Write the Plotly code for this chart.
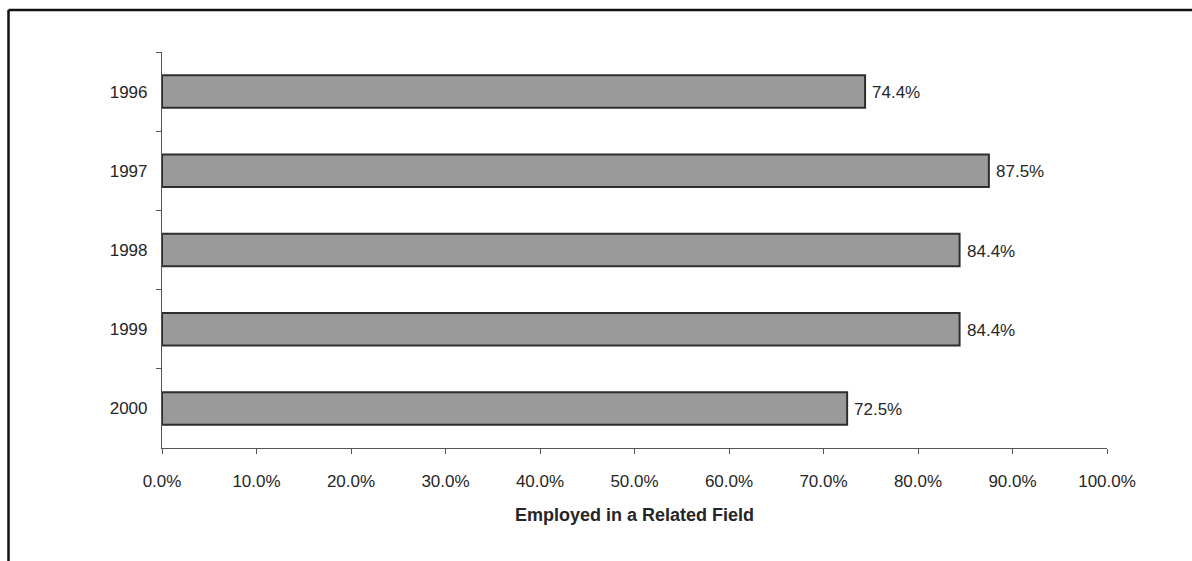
import plotly.graph_objects as go

# Share of graduates employed in a related field, by year
years = ["1996", "1997", "1998", "1999", "2000"]
employed_share = [0.744, 0.875, 0.844, 0.844, 0.725]
x_tick_values = [i / 10 for i in range(11)]
x_tick_labels = [f"{v * 100:.1f}%" for v in x_tick_values]

FONT = "Liberation Sans, Arial, sans-serif"
TEXT = "#262626"

fig = go.Figure(
    go.Bar(
        x=employed_share,
        y=years,
        orientation="h",
        width=0.41,
        marker=dict(color="#9a9a9a", line=dict(color="#2e2e2e", width=2)),
        hoverinfo="skip",
    )
)

# Value labels to the right of each bar (category axis positions by index)
for idx, v in enumerate(employed_share):
    fig.add_annotation(
        x=v, y=idx, xref="x", yref="y",
        text=f"{v * 100:.1f}%",
        showarrow=False, xanchor="left", yanchor="middle",
        xshift=5, yshift=-1,
        font=dict(family=FONT, size=17, color=TEXT),
    )

# Page frame: top and left border lines
L, R, T, B = 162, 85, 52, 113
W, H = 1192, 561
pw, ph = W - L - R, H - T - B
def px(xp):
    return (xp - L) / pw
def py(yp):
    return (H - B - yp) / ph

frame = dict(color="#111111", width=2.5)
fig.add_shape(type="line", xref="paper", yref="paper",
              x0=px(8.5), x1=px(W + 5), y0=py(10), y1=py(10), line=frame)
fig.add_shape(type="line", xref="paper", yref="paper",
              x0=px(8.5), x1=px(8.5), y0=py(10), y1=py(H + 5), line=frame)

fig.update_layout(
    width=W, height=H,
    margin=dict(l=L, r=R, t=T, b=B, autoexpand=False),
    plot_bgcolor="white", paper_bgcolor="white",
    showlegend=False,
    font=dict(family=FONT, size=17, color=TEXT),
)

fig.update_xaxes(
    range=[0, 1],
    tickvals=x_tick_values, ticktext=x_tick_labels,
    ticks="outside", ticklen=5, tickwidth=1, tickcolor="#555555",
    showline=True, linecolor="#555555", linewidth=1.2,
    showgrid=False, zeroline=False,
    ticklabelstandoff=12,
    tickfont=dict(family=FONT, size=17, color=TEXT),
    title=dict(text="<b>Employed in a Related Field</b>", standoff=18,
               font=dict(family=FONT, size=18, color=TEXT)),
)

fig.update_yaxes(
    type="category", categoryorder="array", categoryarray=years,
    range=[len(years) - 0.5, -0.5],
    ticks="outside", ticklen=5, tickwidth=1, tickcolor="#555555",
    tickson="boundaries",
    showline=True, linecolor="#555555", linewidth=1.2,
    showgrid=False, zeroline=False,
    ticklabelstandoff=10,
    tickfont=dict(family=FONT, size=17, color=TEXT),
)

fig.write_html("out.html")
